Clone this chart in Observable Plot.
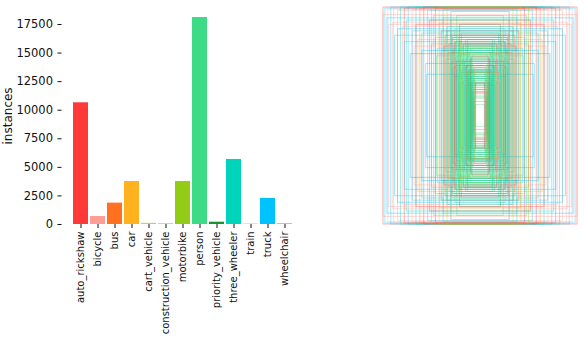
<!DOCTYPE html>
<html>
<head>
<meta charset="utf-8">
<script src="https://cdn.jsdelivr.net/npm/d3@7"></script>
<script src="https://cdn.jsdelivr.net/npm/@observablehq/plot@0.6"></script>
<style>
  html, body { margin: 0; padding: 0; background: #fff; }
  #wrap { position: relative; width: 584px; height: 346px; overflow: hidden; background: #fff; }
  #bars { position: absolute; left: 0; top: 0; }
  #boxes { position: absolute; left: 370px; top: 0; }
</style>
</head>
<body>
<div id="wrap"><div id="bars"></div><div id="boxes"></div></div>
<script>
// Class names, instance counts, class colours
const classNames = ["auto_rickshaw","bicycle","bus","car","cart_vehicle","construction_vehicle","motorbike","person","priority_vehicle","three_wheeler","train","truck","wheelchair"];
const instanceCounts = [10650, 700, 1870, 3760, 100, 50, 3760, 18110, 200, 5690, 20, 2280, 30];
const classColors = ["#FF3838","#FF9D97","#FF701F","#FFB21D","#CFD231","#48F90A","#92CC17","#3DDB86","#1A9334","#00D4BB","#2C99A8","#00C2FF","#344593"];
const yTicks = [0, 2500, 5000, 7500, 10000, 12500, 15000, 17500];

// Centered label boxes (relative width, relative height, class index)
const boxW = [1.00,0.98,0.95,0.92,0.89,0.85,0.82,0.78,0.74,0.70,0.66,0.62,0.58,0.54,0.50,0.46,0.42,0.38,0.34,0.30,1.00,0.96,
  0.90,0.88,0.80,0.76,0.72,0.70,0.66,0.64,0.60,0.56,0.55,0.52,0.50,0.48,0.46,0.44,0.42,0.40,0.38,0.36,0.34,0.32,0.30,0.29,0.28,0.26,0.25,0.24,0.23,0.22,0.21,0.20,0.19,0.18,0.17,0.16,0.15,0.15,0.14,0.13,0.13,0.12,0.12,0.11,0.10,0.10,0.09,0.09,0.08,0.08,0.07,0.06,0.05,
  0.28,0.26,0.24,0.22,0.20,0.18,0.16,0.35,0.33,0.31,0.27,0.45,0.40,0.37,0.60,0.68,0.85,0.94,0.78,
  0.30,0.29,0.27,0.26,0.25,0.24,0.23,0.22,0.21,0.20,0.19,0.18,0.17,0.16,0.15,0.14,0.14,0.13,0.12,0.12,0.11,0.11,0.10,0.10,0.09,0.09,0.08,0.08,0.07,0.07,0.06,0.06,
  0.36,0.34,0.32,0.30,0.28,0.26,0.24,0.22,0.20,0.18,
  0.12,0.11,0.10,0.095,0.09,0.085,0.08,0.075,0.07,0.065,0.06,0.055,0.05,0.045,0.13,0.14];
const boxH = [1.00,0.99,0.98,1.00,0.99,0.97,1.00,0.99,1.00,0.98,1.00,0.99,1.00,0.97,1.00,0.99,1.00,0.98,1.00,0.96,0.93,0.90,
  0.86,0.74,0.82,0.88,0.57,0.78,0.84,0.70,0.76,0.48,0.38,0.88,0.66,0.92,0.72,0.62,0.85,0.78,0.90,0.70,0.82,0.66,0.88,0.74,0.60,0.80,0.68,0.92,0.56,0.72,0.84,0.62,0.76,0.52,0.66,0.58,0.70,0.46,0.54,0.62,0.40,0.48,0.34,0.42,0.30,0.52,0.36,0.26,0.32,0.22,0.18,0.13,0.10,
  0.44,0.36,0.50,0.40,0.30,0.38,0.28,0.52,0.58,0.48,0.62,0.55,0.60,0.64,0.60,0.64,0.80,0.84,0.68,
  0.58,0.50,0.64,0.46,0.54,0.42,0.60,0.34,0.48,0.56,0.40,0.44,0.32,0.50,0.38,0.28,0.46,0.36,0.30,0.42,0.26,0.34,0.24,0.40,0.22,0.30,0.20,0.28,0.17,0.24,0.16,0.21,
  0.74,0.78,0.70,0.76,0.72,0.68,0.74,0.66,0.70,0.64,
  0.66,0.58,0.62,0.50,0.54,0.46,0.56,0.42,0.48,0.38,0.44,0.34,0.40,0.30,0.70,0.64];
const boxCls = [0,11,1,11,1,1,9,0,11,1,9,2,0,11,6,0,3,9,6,10,1,11,
  1,11,1,9,10,11,0,3,9,11,11,0,2,7,9,11,6,0,7,3,9,10,7,0,6,7,9,7,3,7,8,7,9,7,0,7,7,9,7,6,7,7,9,7,7,8,7,7,9,7,7,2,7,
  7,9,0,7,7,3,7,7,2,9,7,7,9,0,11,1,11,1,11,
  7,9,7,0,7,10,7,7,9,7,2,7,7,9,7,7,0,7,7,9,7,7,7,8,7,7,9,7,7,0,7,2,
  0,9,2,7,10,0,7,9,6,7,
  7,9,7,7,0,7,7,9,7,7,2,7,7,0,9,7];

const barData = classNames.map((name, i) => ({name, count: instanceCounts[i], color: classColors[i]}));
const boxData = boxW.map((w, i) => ({w, h: boxH[i], color: classColors[boxCls[i]]}));

const font = {fontFamily: "'DejaVu Sans', sans-serif", fontSize: "11px", background: "white", color: "#111"};

const bars = Plot.plot({
  width: 320,
  height: 346,
  marginLeft: 61.5,
  marginRight: 15.5,
  marginTop: 6.86,
  marginBottom: 122,
  style: font,
  x: {type: "band", domain: classNames, paddingInner: 0.1, paddingOuter: 0.56, label: null},
  y: {domain: [0, 19000], label: null},
  color: {type: "identity"},
  marks: [
    Plot.barY(barData, {x: "name", y: "count", fill: "color"}),
    Plot.axisY({ticks: yTicks, tickSize: 4, tickPadding: 5, fontSize: 11.5, label: null, tickFormat: d => String(d)}),
    Plot.axisX({tickRotate: -90, tickSize: 4, tickPadding: 3, fontSize: 10, label: null}),
    Plot.text(["instances"], {text: d => d, frameAnchor: "left", textAnchor: "middle", dx: -54, rotate: -90, fontSize: 12})
  ]
});
document.getElementById("bars").appendChild(bars);

const boxes = Plot.plot({
  width: 214,
  height: 240,
  marginLeft: 13,
  marginRight: 7,
  marginTop: 7,
  marginBottom: 16,
  style: font,
  x: {domain: [-0.5, 0.5], axis: null},
  y: {domain: [-0.5, 0.5], axis: null},
  color: {type: "identity"},
  marks: [
    Plot.rect(boxData, {x1: d => -d.w / 2, x2: d => d.w / 2, y1: d => -d.h / 2, y2: d => d.h / 2,
      fill: "none", stroke: "color", strokeOpacity: 0.38, strokeWidth: 1})
  ]
});
document.getElementById("boxes").appendChild(boxes);
</script>
</body>
</html>
